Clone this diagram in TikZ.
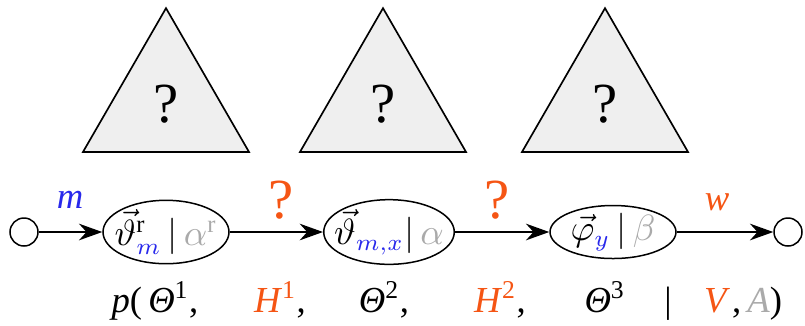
\documentclass[tikz,border=0pt]{standalone}
\usepackage{fontspec}
\setmainfont{Liberation Serif}
\usetikzlibrary{shapes.geometric,arrows.meta}
\definecolor{qblue}{RGB}{40,40,235}
\definecolor{qorange}{RGB}{245,85,20}
\definecolor{qgray}{RGB}{170,170,170}
\definecolor{qfill}{RGB}{239,239,239}
\newcommand\sps[1]{\textsuperscript{#1}}
\begin{document}
\begin{tikzpicture}[x=0.3pt,y=-0.3pt,
  tri/.style={regular polygon,regular polygon sides=3,minimum size=57.5pt,inner sep=0pt,draw,fill=qfill,line width=0.5pt,font=\fontsize{17}{20}\selectfont},
  ell/.style={ellipse,draw,minimum width=37.8pt,minimum height=15.9pt,inner xsep=-2.6pt,inner ysep=0pt,line width=0.45pt,font=\fontsize{10.5}{12}\selectfont},
  endc/.style={circle,draw,minimum size=8.4pt,inner sep=0pt,line width=0.45pt},
  conn/.style={-{Stealth[length=7pt,width=5pt]},line width=0.45pt},
  lab/.style={font=\fontsize{11}{13}\selectfont\itshape},
  qlab/.style={font=\fontsize{17}{20}\selectfont,text=qorange},
  bot/.style={font=\fontsize{11}{13}\selectfont,anchor=base}]
\useasboundingbox (0,0) rectangle (805,325);
\node[tri] (t1) at (166,104) {?};
\node[tri] (t2) at (383,104) {?};
\node[tri] (t3) at (605,104) {?};
\node[endc] (s) at (24,232) {};
\node[ell] (e1) at (166,232) {$\vec{\vartheta}^{\mathrm{r}}_{\color{qblue}m}\,|\,{\color{qgray}\alpha^{\mathrm{r}}}$};
\node[ell] (e2) at (389,232) {$\vec{\vartheta}_{\color{qblue}m,x}|\,{\color{qgray}\alpha}$};
\node[ell] (e3) at (613,232) {$\vec{\varphi}_{\color{qblue}y}\,|\,{\color{qgray}\beta}$};
\node[endc] (t) at (788,232) {};
\draw[conn] (s) -- (e1);
\draw[conn] (e1) -- (e2);
\draw[conn] (e2) -- (e3);
\draw[conn] (e3) -- (t);
\node[lab,text=qblue] (lm) at (70,200) {m};
\node[qlab] (q1) at (281,200) {?};
\node[qlab] (q2) at (497,200) {?};
\node[lab,text=qorange] (lw) at (717,202) {w};
\node[bot] (b1) at (155,312) {\textit{p}(\,\textit{Θ}\sps{1},};
\node[bot] (b2) at (280,312) {\textcolor{qorange}{\textit{H}\sps{1}},};
\node[bot] (b3) at (384,312) {\textit{Θ}\sps{2},};
\node[bot] (b4) at (500,312) {\textcolor{qorange}{\textit{H}\sps{2}},};
\node[bot] (b5) at (605,312) {\textit{Θ}\sps{3}};
\node[bot] (b6) at (668,312) {|};
\node[bot,text=qorange] (b7) at (717,312) {\textit{V}};
\node[bot] (b8) at (757,312) {,\,\textcolor{qgray}{\textit{A}})};
\end{tikzpicture}
\end{document}
